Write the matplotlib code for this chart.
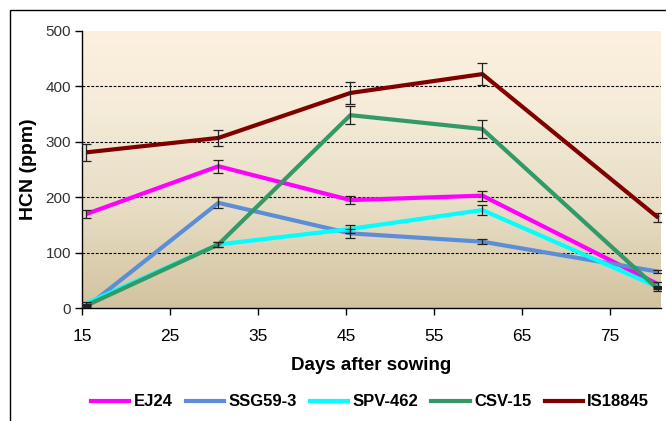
import numpy as np
import matplotlib
matplotlib.use('Agg')
import matplotlib.pyplot as plt
from matplotlib.colors import LinearSegmentedColormap
from matplotlib.lines import Line2D

plt.rcParams['font.family'] = ['Liberation Sans', 'DejaVu Sans']

days = [15, 30, 45, 60, 80]
names = ['EJ24', 'SSG59-3', 'SPV-462', 'CSV-15', 'IS18845']
colors = ['#FF00FF', '#5B8ED6', '#00FFFF', '#339966', '#800000']

ej24 = [170, 256, 195, 203, 43]
ssg = [2, 190, 135, 120, 66]
spv = [9, 115, 143, 177, 38]
csv = [5, 115, 348, 323, 34]
is18845 = [281, 307, 388, 422, 163]

ej24_err = [8, 12, 7, 9, 5]
ssg_err = [3, 10, 8, 5, 3]
spv_err = [3, 5, 7, 9, 3]
csv_err = [3, 5, 16, 16, 3]
is_err = [15, 14, 19, 20, 8]

series = [ej24, ssg, spv, csv, is18845]
errors = [ej24_err, ssg_err, spv_err, csv_err, is_err]

xticks = [14.5, 24.5, 34.5, 44.5, 54.5, 64.5, 74.5]
xtick_labels = ['15', '25', '35', '45', '55', '65', '75']
yticks = [0, 100, 200, 300, 400, 500]

fig = plt.figure(figsize=(6.66, 4.21), dpi=100)
ax = fig.add_axes([82 / 666, 1 - 308.3 / 421, 579 / 666, 277.5 / 421])

# gradient background for the plot area
cmap = LinearSegmentedColormap.from_list(
    'bg', [(0, '#D2C29F'), (0.35, '#E7DDC4'), (0.7, '#F4EBD8'), (1, '#FDF1DE')])
grad = np.linspace(0, 1, 256).reshape(-1, 1)
ax.imshow(grad, aspect='auto', cmap=cmap, origin='lower',
          extent=[0, 1, 0, 1], transform=ax.transAxes, zorder=0)

for y in [100, 200, 300, 400]:
    ax.axhline(y, color='black', lw=0.8, ls=(0, (2.5, 1.5)), zorder=1)

for vals, err, c in zip(series, errors, colors):
    ax.plot(days, vals, color=c, lw=3, zorder=3, solid_capstyle='butt')
    ax.errorbar(days, vals, yerr=err, fmt='none', ecolor='#222222',
                elinewidth=0.9, capsize=3.5, capthick=0.9, zorder=4)

ax.set_xlim(14.5, 80.3)
ax.set_ylim(0, 500)
ax.set_xticks(xticks)
ax.set_xticklabels(xtick_labels, fontsize=12.5)
ax.set_yticks(yticks)
ax.set_yticklabels([str(v) for v in yticks], fontsize=11, color='#333333')
ax.tick_params(axis='both', direction='out', length=5, width=1, color='black')
ax.tick_params(axis='x', pad=10)
ax.tick_params(axis='y', pad=3)
for s in ['top', 'right']:
    ax.spines[s].set_visible(False)
for s in ['left', 'bottom']:
    ax.spines[s].set_linewidth(1)
    ax.spines[s].set_color('black')

ax.set_xlabel('Days after sowing', fontsize=13.5, fontweight='bold', labelpad=9)
ax.set_ylabel('HCN (ppm)', fontsize=14, fontweight='bold', labelpad=6)

handles = [Line2D([0], [0], color=c, lw=3) for c in colors]
fig.legend(handles, names, loc='center', bbox_to_anchor=(370 / 666, 1 - 402 / 421),
           ncol=5, frameon=False, prop={'weight': 'bold', 'size': 12},
           handlelength=2.3, handletextpad=0.25, columnspacing=0.8)

# outer chart border
fig.add_artist(plt.Rectangle((9.5 / 666, -0.05), 1, 1 - 9.5 / 421 + 0.05,
                             transform=fig.transFigure, fill=False,
                             edgecolor='black', lw=1))

fig.savefig('out.png', dpi=100)
